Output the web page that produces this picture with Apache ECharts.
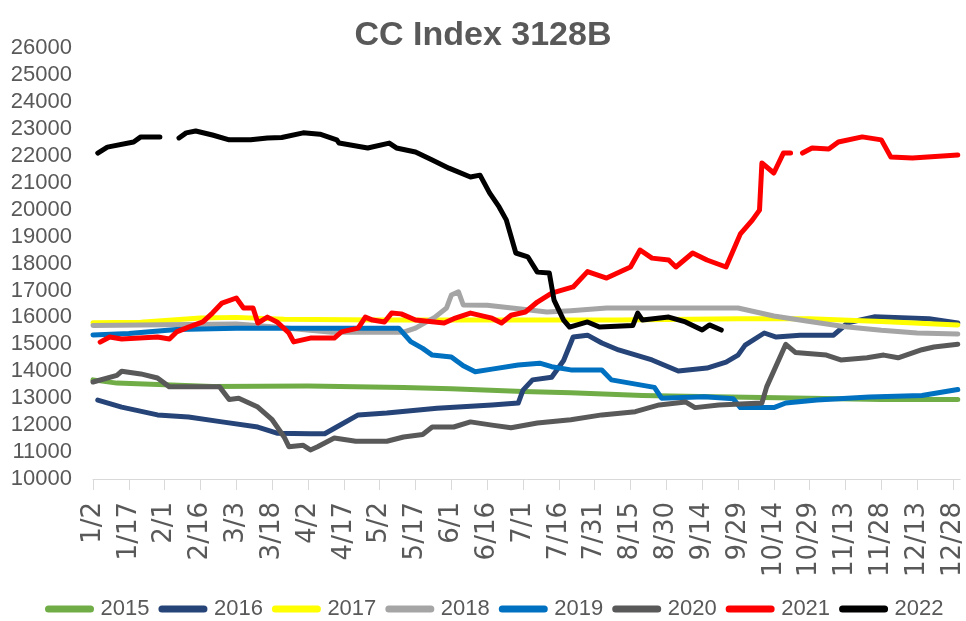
<!DOCTYPE html>
<html>
<head>
<meta charset="utf-8">
<title>CC Index 3128B</title>
<script src="https://cdn.jsdelivr.net/npm/echarts@6/dist/echarts.min.js"></script>
<style>
  html, body { margin: 0; padding: 0; background: #fff; }
  #chart { width: 966px; height: 621px; }
</style>
</head>
<body>
<div id="chart"></div>
<script>
// x is days counted from Jan 2, one label every 15 days
const tickLabels = ['1/2', '1/17', '2/1', '2/16', '3/3', '3/18', '4/2', '4/17', '5/2', '5/17',
  '6/1', '6/16', '7/1', '7/16', '7/31', '8/15', '8/30', '9/14', '9/29', '10/14',
  '10/29', '11/13', '11/28', '12/13', '12/28'];
const years = ['2015', '2016', '2017', '2018', '2019', '2020', '2021', '2022'];
const colors = ['#70AD47', '#264478', '#FFFF00', '#A5A5A5', '#0070C0', '#595959', '#FF0000', '#000000'];

// [day, price]; null = no quote (line break)
const y2015 = [[0, 13680], [10, 13560], [30, 13500], [50, 13430], [90, 13450], [130, 13400], [150, 13350],
  [180, 13250], [200, 13200], [230, 13100], [260, 13050], [300, 13000], [330, 12950], [362, 12950]];

const y2016 = [[2, 12930], [12, 12670], [27, 12380], [40, 12300], [54, 12120], [69, 11930], [77, 11700],
  [91, 11680], [97, 11680], [102, 11930], [111, 12380], [123, 12450], [144, 12630], [167, 12750],
  [178, 12820], [180, 13300], [184, 13680], [192, 13780], [197, 14400], [201, 15270], [207, 15340],
  [213, 15050], [220, 14790], [234, 14420], [245, 14010], [257, 14120], [265, 14340], [270, 14600],
  [273, 14970], [281, 15420], [286, 15270], [296, 15340], [310, 15340], [316, 15800], [327, 16020],
  [350, 15950], [362, 15790]];

const y2017 = [[0, 15800], [20, 15820], [45, 15980], [60, 16000], [80, 15930], [120, 15900], [220, 15900],
  [270, 15950], [300, 15950], [330, 15850], [362, 15720]];

const y2018 = [[0, 15700], [60, 15750], [75, 15650], [100, 15450], [130, 15450], [135, 15600], [143, 16000],
  [148, 16350], [150, 16830], [153, 16950], [155, 16460], [165, 16450], [180, 16300], [190, 16200],
  [200, 16250], [215, 16350], [270, 16350], [285, 16050], [300, 15850], [315, 15650], [330, 15520],
  [345, 15420], [362, 15380]];

const y2019 = [[0, 15350], [15, 15400], [35, 15550], [60, 15600], [128, 15600], [133, 15100], [138, 14850],
  [142, 14600], [150, 14530], [155, 14200], [160, 13980], [167, 14080], [178, 14230], [187, 14300],
  [192, 14170], [200, 14050], [213, 14050], [217, 13680], [235, 13400], [238, 13000], [256, 13050],
  [268, 12980], [271, 12650], [285, 12650], [290, 12820], [303, 12930], [325, 13040], [347, 13100],
  [362, 13320]];

const y2020 = [[0, 13600], [10, 13850], [12, 14000], [20, 13900], [27, 13750], [32, 13420], [53, 13420],
  [57, 12950], [61, 13000], [69, 12670], [75, 12200], [80, 11560], [82, 11200], [88, 11250], [91, 11080],
  [94, 11200], [101, 11520], [110, 11400], [123, 11400], [130, 11560], [138, 11650], [142, 11930],
  [151, 11930], [158, 12120], [167, 12000], [175, 11900], [186, 12080], [200, 12200], [213, 12380],
  [227, 12500], [237, 12750], [248, 12860], [252, 12650], [262, 12750], [280, 12820], [282, 13420],
  [290, 15000], [294, 14700], [307, 14600], [313, 14420], [324, 14500], [331, 14600], [337, 14500],
  [347, 14800], [352, 14900], [362, 15000]];

const y2021 = [[3, 15080], [7, 15270], [12, 15200], [27, 15270], [32, 15200], [35, 15460], [40, 15640],
  [46, 15830], [50, 16160], [54, 16530], [60, 16720], [63, 16350], [67, 16350], [69, 15790], [73, 16010],
  [77, 15830], [82, 15420], [84, 15090], [91, 15230], [101, 15230], [104, 15460], [111, 15600],
  [114, 16010], [117, 15900], [122, 15830], [125, 16160], [129, 16130], [135, 15900], [147, 15790],
  [151, 15950], [158, 16160], [167, 15970], [171, 15790], [175, 16080], [181, 16200], [186, 16570],
  [192, 16900], [201, 17130], [207, 17700], [215, 17460], [225, 17870], [229, 18500], [234, 18200],
  [241, 18130], [244, 17870], [251, 18390], [257, 18130], [265, 17870], [271, 19100], [276, 19610],
  [279, 19980], [280, 21730], [285, 21360], [289, 22100], [292, 22100], [294, null], [297, 22100],
  [301, 22290], [308, 22250], [312, 22510], [322, 22700], [330, 22590], [334, 21950], [343, 21920],
  [362, 22030]];

const y2022 = [[2, 22100], [6, 22320], [17, 22510], [20, 22700], [28, 22700], [32, null], [36, 22660],
  [39, 22850], [43, 22920], [50, 22770], [57, 22590], [66, 22590], [73, 22660], [79, 22680], [88, 22850],
  [95, 22800], [102, 22590], [103, 22470], [115, 22290], [124, 22470], [127, 22290], [135, 22140],
  [142, 21840], [149, 21540], [158, 21210], [162, 21280], [166, 20620], [170, 20100], [173, 19620],
  [177, 18390], [182, 18250], [186, 17680], [191, 17650], [193, 16640], [197, 15900], [199.5, 15640],
  [207, 15830], [212, 15640], [226, 15700], [228, 16160], [230, 15900], [241, 16010], [248, 15830],
  [255, 15530], [258, 15720], [263, 15530]];

const seriesData = [y2015, y2016, y2017, y2018, y2019, y2020, y2021, y2022];

const tickDays = tickLabels.map((_, i) => i * 15);
const sans = "'Liberation Sans', Arial, sans-serif";
const capsule = 'path://M4,0 H52 A4,4 0 0 1 52,8 H4 A4,4 0 0 1 4,0 Z';

const chart = echarts.init(document.getElementById('chart'));

chart.setOption({
  animation: false,
  backgroundColor: '#fff',
  title: {
    text: 'CC Index 3128B',
    left: 'center',
    top: 14,
    textStyle: { fontFamily: sans, fontSize: 34, fontWeight: 'bold', color: '#595959' }
  },
  legend: {
    data: years,
    left: 40,
    top: 593,
    icon: capsule,
    itemWidth: 52,
    itemHeight: 7,
    itemGap: 9,
    textStyle: { fontFamily: sans, fontSize: 22, color: '#595959' }
  },
  grid: { left: 93, right: 5, top: 48, bottom: 142 },
  xAxis: {
    type: 'value',
    min: 0,
    max: 363,
    axisLine: { lineStyle: { color: '#D9D9D9', width: 1 } },
    axisTick: { show: true, length: 11, customValues: tickDays, lineStyle: { color: '#D9D9D9' } },
    axisLabel: {
      customValues: tickDays,
      rotate: 90,
      margin: 23,
      fontFamily: "'DejaVu Sans', sans-serif",
      fontSize: 26,
      color: '#595959',
      formatter: (v) => tickLabels[Math.round(v / 15)] || ''
    },
    splitLine: { show: false }
  },
  yAxis: {
    type: 'value',
    min: 10000,
    max: 26000,
    interval: 1000,
    axisLine: { show: false },
    axisTick: { show: false },
    splitLine: { show: false },
    axisLabel: {
      margin: 21,
      fontFamily: sans,
      fontSize: 22,
      color: '#595959',
      formatter: (v) => String(v)
    }
  },
  series: years.map((name, i) => ({
    name,
    type: 'line',
    data: seriesData[i],
    showSymbol: false,
    symbol: 'none',
    connectNulls: false,
    color: colors[i],
    lineStyle: { width: 5, color: colors[i], cap: 'round', join: 'round' },
    itemStyle: { color: colors[i] }
  }))
});
</script>
</body>
</html>
